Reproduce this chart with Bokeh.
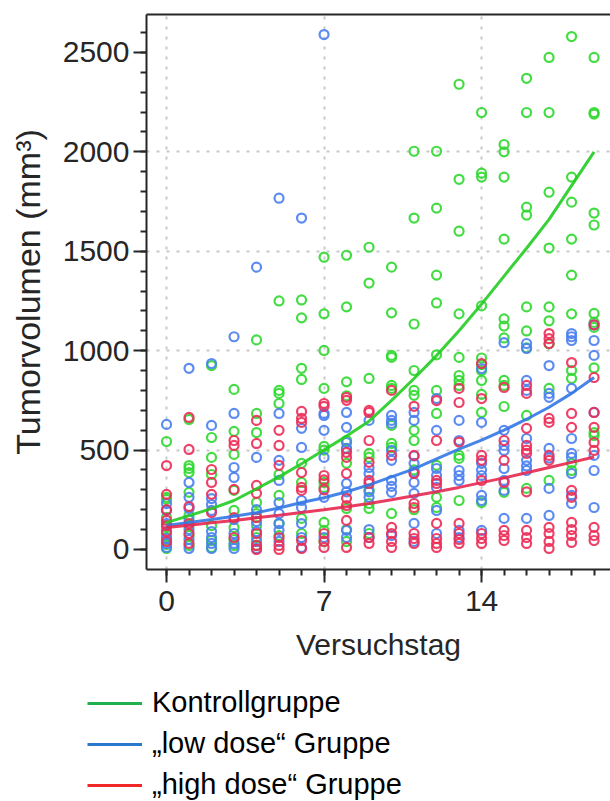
from bokeh.plotting import figure
from bokeh.layouts import column
from bokeh.models import (Range1d, FixedTicker, LinearAxis, Legend, LegendItem)
from bokeh.embed import file_html
from bokeh.resources import INLINE

# Versuchstage 0..19
days = list(range(20))

# Tumorvolumen je Tier (mm³), pro Versuchstag
kontroll_values = [
    [543, 262, 252, 161, 111, 60, 25, 5],
    [654, 422, 407, 387, 287, 171, 120, 70, 20],
    [925, 563, 463, 377, 120, 45, 10],
    [805, 594, 478, 297, 196, 110, 50, 20],
    [1054, 684, 588, 236, 180, 120, 60, 20],
    [1250, 800, 785, 734, 377, 272, 130, 70],
    [1255, 1165, 911, 855, 433, 337, 156, 80],
    [1470, 1185, 1001, 810, 518, 500, 337, 312, 136, 96, 40],
    [1480, 1220, 843, 773, 548, 507, 433, 206, 100, 40],
    [1520, 1340, 860, 483, 463, 300, 231, 206, 80],
    [1420, 1190, 976, 966, 825, 810, 624, 533, 513, 181],
    [2003, 1667, 1134, 900, 800, 775, 599, 548, 400, 200],
    [2003, 1717, 1380, 1240, 979, 800, 684, 423, 262, 211],
    [2340, 1862, 1601, 1185, 966, 875, 850, 825, 473, 458, 246],
    [2198, 1893, 1873, 1225, 963, 930, 900, 850, 780, 689, 236],
    [2037, 2000, 1873, 1561, 1160, 1124, 1064, 850, 825, 719, 287],
    [2370, 2198, 1722, 1682, 1220, 1099, 1014, 674, 307],
    [2475, 2198, 1797, 1516, 1220, 1150, 1034, 810, 347],
    [2580, 1873, 1747, 1561, 1380, 1185, 900, 860, 433, 397],
    [2475, 2198, 2190, 1692, 1632, 1187, 1142, 1117, 913, 588, 573],
]

low_dose_values = [
    [629, 231, 196, 130, 80, 55, 30, 10],
    [911, 337, 262, 206, 150, 100, 50, 5],
    [935, 624, 256, 226, 196, 90, 60, 30, 5],
    [1070, 684, 412, 362, 150, 80, 30, 5],
    [1420, 463, 200, 140, 90, 40, 5],
    [1767, 684, 448, 347, 236, 180, 130, 96, 40],
    [1667, 609, 513, 246, 211, 130, 60, 10],
    [2590, 684, 674, 599, 463, 262, 60],
    [689, 614, 538, 508, 332, 290, 96, 60],
    [649, 412, 382, 290, 262, 100, 60],
    [674, 649, 634, 498, 448, 347, 317, 287, 70],
    [689, 649, 470, 433, 390, 337, 282, 131, 40],
    [759, 599, 407, 372, 312, 196, 80],
    [649, 548, 397, 372, 347, 96, 60],
    [910, 639, 433, 400, 372, 272, 246, 96],
    [1040, 599, 523, 498, 407, 347, 297, 156],
    [1036, 1011, 850, 800, 558, 448, 420, 397, 156],
    [925, 785, 765, 508, 460, 307, 171],
    [1086, 1070, 1051, 810, 558, 483, 463, 382, 272, 231],
    [1130, 1051, 976, 689, 473, 397, 211],
]

high_dose_values = [
    [422, 277, 200, 146, 120, 90, 40],
    [664, 503, 216, 130, 80, 30],
    [402, 337, 277, 186],
    [548, 523, 302, 160, 60],
    [649, 533, 322, 282, 160, 80, 20, 0],
    [599, 523, 423, 60, 20, 0],
    [694, 659, 639, 387, 312, 297, 45, 5],
    [734, 720, 372, 350, 300, 80, 40, 10],
    [765, 750, 488, 463, 382, 257, 221, 146, 10],
    [699, 689, 548, 438, 347, 332, 60, 30],
    [800, 473, 111, 80, 40, 10],
    [720, 473, 382, 231, 211, 80, 55, 30],
    [749, 548, 347, 332, 131, 55, 30, 10],
    [810, 739, 540, 131, 80, 50, 30],
    [935, 759, 473, 448, 347, 80, 55, 30],
    [815, 548, 448, 337, 96, 70, 45],
    [825, 785, 609, 523, 500, 483, 290, 96, 60, 30],
    [1086, 1060, 1036, 659, 639, 473, 448, 111, 80, 40, 5],
    [940, 684, 614, 297, 262, 136, 100, 70, 35],
    [1130, 865, 689, 614, 538, 498, 111, 70, 45],
]

# Angepasste Verlaufskurven je Gruppe
kontroll_fit = [135, 170, 205, 246, 305, 365, 431, 500, 570, 645,
                750, 860, 975, 1100, 1234, 1375, 1515, 1660, 1830, 2000]
low_dose_fit = [120, 135, 150, 167, 185, 208, 236, 260, 290, 325,
                365, 405, 455, 505, 550, 600, 655, 715, 785, 865]
high_dose_fit = [110, 122, 134, 146, 159, 172, 186, 200, 215, 231,
                 250, 270, 290, 312, 336, 360, 386, 412, 438, 465]

legend_labels = ["Kontrollgruppe", "\u201elow dose\u201c Gruppe", "\u201ehigh dose\u201c Gruppe"]

FONT = "Liberation Sans"
INK = "#262626"

p = figure(width=610, height=672, output_backend="svg", toolbar_location=None,
           x_range=Range1d(-0.89, 19.73), y_range=Range1d(-101, 2691),
           min_border_left=146, min_border_right=0, min_border_top=14,
           min_border_bottom=103, frame_align=False)
p.outline_line_color = None
p.background_fill_color = "white"
p.border_fill_color = "white"

# Gitter: gepunktet, nur an den Hauptmarken
p.xgrid.ticker = FixedTicker(ticks=[0, 7, 14])
p.ygrid.ticker = FixedTicker(ticks=[500, 1000, 1500, 2000])
for g in (p.xgrid, p.ygrid):
    g.grid_line_color = "#c8c8c8"
    g.grid_line_width = 2
    g.grid_line_dash = "3 7"

xa = p.xaxis[0]
xa.ticker = FixedTicker(ticks=[0, 7, 14], minor_ticks=days)
xa.axis_label = "Versuchstag"
ya = p.yaxis[0]
ya.ticker = FixedTicker(ticks=[0, 500, 1000, 1500, 2000, 2500],
                        minor_ticks=list(range(0, 2700, 100)))
ya.axis_label = "Tumorvolumen (mm\u00b3)"
for ax in (xa, ya):
    ax.axis_line_color = INK
    ax.axis_line_width = 2
    ax.major_tick_line_color = INK
    ax.major_tick_line_width = 2
    ax.minor_tick_line_color = INK
    ax.minor_tick_line_width = 2
    ax.major_tick_in = 0
    ax.minor_tick_in = 0
    ax.major_tick_out = 13
    ax.minor_tick_out = 6
    ax.major_label_text_font = FONT
    ax.major_label_text_font_size = "30px"
    ax.major_label_text_color = INK
    ax.axis_label_text_font = FONT
    ax.axis_label_text_font_style = "normal"
    ax.axis_label_text_color = INK
xa.major_label_standoff = 8
xa.axis_label_standoff = 14
xa.axis_label_text_font_size = "30px"
ya.major_label_standoff = 4
ya.axis_label_standoff = 13
ya.axis_label_text_font_size = "34px"

# obere Rahmenlinie
top = LinearAxis(ticker=FixedTicker(ticks=[]), major_label_text_font_size="0px",
                 axis_line_color=INK, axis_line_width=2,
                 major_tick_line_color=None, minor_tick_line_color=None)
p.add_layout(top, "above")

groups = [
    (kontroll_values, kontroll_fit, "#2fd82f", "#22cc22", "#20b04c"),
    (low_dose_values, low_dose_fit, "#4a80f0", "#3377e6", "#2a78cc"),
    (high_dose_values, high_dose_fit, "#ec2c58", "#e62850", "#f02828"),
]

for values, fit, pt_color, line_color, legend_color in groups:
    xs = [d for d, col in zip(days, values) for _ in col]
    ys = [v for col in values for v in col]
    p.scatter(xs, ys, marker="circle", size=9, fill_color=None,
              line_color=pt_color, line_width=2.2, line_alpha=0.9)

for values, fit, pt_color, line_color, legend_color in groups:
    p.line(days, fit, line_color=line_color, line_width=3, line_alpha=0.9)

# Legende unter dem Diagramm (eigene Fläche, Kurven liegen außerhalb ihres Bereichs)
leg_fig = figure(width=610, height=129, output_backend="svg", toolbar_location=None,
                 x_axis_type=None, y_axis_type=None,
                 x_range=Range1d(0, 1), y_range=Range1d(0, 1),
                 min_border=0, outline_line_color=None, frame_align=False)
leg_fig.xgrid.visible = False
leg_fig.ygrid.visible = False
legend_renderers = []
for values, fit, pt_color, line_color, legend_color in groups:
    legend_renderers.append(
        leg_fig.line(days, fit, line_color=legend_color, line_width=3))

legend = Legend(items=[LegendItem(label=lab, renderers=[r])
                       for lab, r in zip(legend_labels, legend_renderers)],
                location=(87, 0), orientation="vertical",
                glyph_width=55, glyph_height=28, label_height=28,
                spacing=8, label_standoff=10, padding=0, margin=0,
                border_line_color=None, background_fill_alpha=0,
                label_text_font=FONT, label_text_font_size="29px",
                label_text_color="black")
leg_fig.add_layout(legend)

open("out.html", "w").write(file_html(column(p, leg_fig, spacing=0), INLINE))
